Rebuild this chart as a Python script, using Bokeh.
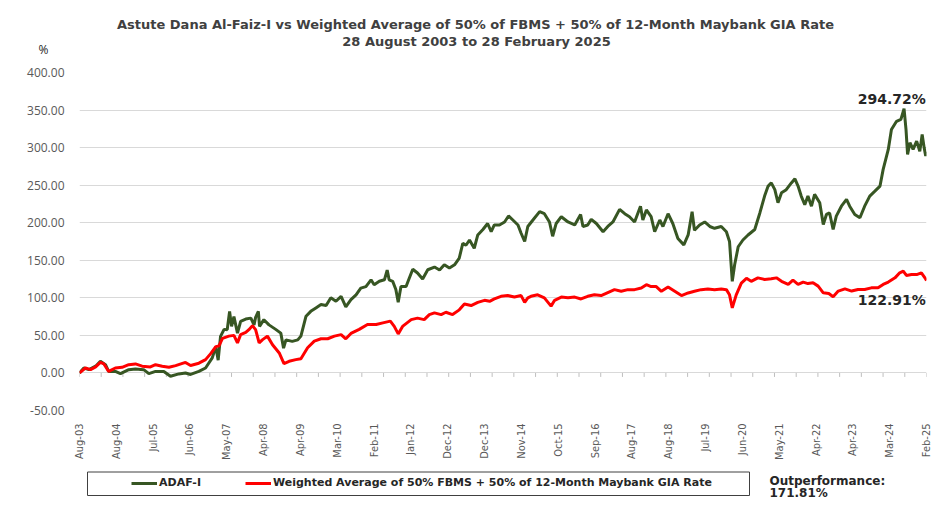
import numpy as np
from bokeh.plotting import figure
from bokeh.layouts import column
from bokeh.models import (Range1d, FixedTicker, CustomJSTickFormatter, NumeralTickFormatter,
                          Label, Legend, LegendItem)
from bokeh.embed import file_html
from bokeh.resources import INLINE

# ---------------- data ----------------
x_labels = ["Aug-03", "Aug-04", "Jul-05", "Jun-06", "May-07", "Apr-08", "Apr-09", "Mar-10",
            "Feb-11", "Jan-12", "Dec-12", "Dec-13", "Nov-14", "Oct-15", "Sep-16", "Aug-17",
            "Aug-18", "Jul-19", "Jun-20", "May-21", "Apr-22", "Apr-23", "Mar-24", "Feb-25"]
y_ticks = [-50, 0, 50, 100, 150, 200, 250, 300, 350, 400]

# ADAF-I cumulative return (%), time in decimal years
adaf_t = [2003.66, 2003.77, 2003.90, 2004.07, 2004.19, 2004.32, 2004.40, 2004.57, 2004.70, 2004.91,
          2005.08, 2005.29, 2005.42, 2005.59, 2005.80, 2005.97, 2006.18, 2006.35, 2006.48, 2006.69,
          2006.86, 2007.03, 2007.12, 2007.18, 2007.24, 2007.33, 2007.41, 2007.47, 2007.52, 2007.58,
          2007.67, 2007.75, 2007.88, 2008.01, 2008.09, 2008.13, 2008.20, 2008.23, 2008.34, 2008.47,
          2008.64, 2008.77, 2008.84, 2008.90, 2009.06, 2009.20, 2009.28, 2009.41, 2009.53, 2009.66,
          2009.79, 2009.92, 2010.04, 2010.17, 2010.30, 2010.42, 2010.55, 2010.68, 2010.80, 2010.93,
          2011.06, 2011.14, 2011.27, 2011.40, 2011.47, 2011.52, 2011.61, 2011.69, 2011.75, 2011.82,
          2011.95, 2012.03, 2012.12, 2012.24, 2012.37, 2012.50, 2012.67, 2012.80, 2012.92, 2013.05,
          2013.18, 2013.30, 2013.39, 2013.47, 2013.56, 2013.68, 2013.77, 2013.90, 2014.02, 2014.11,
          2014.19, 2014.32, 2014.45, 2014.55, 2014.66, 2014.79, 2014.87, 2014.96, 2015.04, 2015.17,
          2015.34, 2015.46, 2015.59, 2015.67, 2015.76, 2015.89, 2016.06, 2016.23, 2016.38, 2016.44,
          2016.56, 2016.65, 2016.78, 2016.95, 2017.07, 2017.20, 2017.37, 2017.50, 2017.62, 2017.75,
          2017.90, 2017.96, 2018.05, 2018.17, 2018.26, 2018.39, 2018.47, 2018.60, 2018.72, 2018.85,
          2019.00, 2019.11, 2019.21, 2019.27, 2019.40, 2019.53, 2019.66, 2019.78, 2019.95, 2020.08,
          2020.16, 2020.23, 2020.29, 2020.38, 2020.50, 2020.63, 2020.80, 2020.93, 2021.05, 2021.14,
          2021.22, 2021.31, 2021.39, 2021.48, 2021.60, 2021.73, 2021.82, 2021.90, 2021.98, 2022.07,
          2022.15, 2022.24, 2022.32, 2022.45, 2022.54, 2022.62, 2022.70, 2022.79, 2022.87, 2023.00,
          2023.13, 2023.21, 2023.34, 2023.47, 2023.59, 2023.72, 2023.85, 2023.98, 2024.06, 2024.19,
          2024.27, 2024.40, 2024.51, 2024.59, 2024.64, 2024.68, 2024.74, 2024.82, 2024.91, 2024.99,
          2025.05, 2025.10, 2025.14, 2025.16]
adaf_v = [0, 6.6, 4.4, 9, 15.5, 11, 2, 2, -1, 4.4,
          5.3, 4.4, -1, 2, 2, -4.4, -1.3, 0, -2, 2,
          6.6, 20, 35, 17, 48.7, 58, 57.6, 82, 62, 75,
          53, 68.7, 71.7, 73, 64, 74, 82, 62, 70.9, 64,
          58, 53, 33, 44, 42, 44, 49, 75.5, 82, 86.5,
          91, 89.7, 100, 95.5, 102, 88, 97.6, 104, 113, 115,
          124, 117.5, 122, 124, 137, 124, 122, 111, 94, 115,
          115, 126, 138, 133, 125, 137.4, 141, 137, 144, 139.6,
          144, 153, 172.7, 170, 177, 166, 183.7, 191, 199, 188,
          197, 197, 201, 209, 203.6, 197, 186, 175, 195, 203.6,
          214.7, 212, 201, 182, 199, 208, 201, 197, 211, 195,
          197, 204.5, 199, 188, 195, 201, 217.8, 212, 208, 201,
          222, 203.6, 217, 208, 188, 203.6, 195, 212, 199, 179,
          170.5, 183.7, 214.7, 190, 197, 201, 195, 192.6, 195, 188,
          175, 122, 144, 168, 177, 183.7, 191, 213, 235.5, 248.8,
          253, 244, 226.6, 240, 244, 253, 258.5, 248.8, 235.5, 224,
          235.5, 222, 237.7, 226.6, 197.7, 211, 213, 191, 208.8, 222,
          231, 222, 211, 206.6, 222, 235.5, 242, 248.8, 271, 297.6,
          324, 335, 337.6, 351.8, 324, 291, 306.5, 297.6, 308.7, 295,
          317.6, 300, 288.7, 294.72]

# Benchmark cumulative return (%)
bm_t = [2003.66, 2003.81, 2003.94, 2004.07, 2004.19, 2004.28, 2004.40, 2004.57, 2004.74, 2004.91,
        2005.08, 2005.25, 2005.46, 2005.59, 2005.76, 2005.93, 2006.10, 2006.35, 2006.48, 2006.69,
        2006.86, 2006.99, 2007.12, 2007.20, 2007.29, 2007.45, 2007.58, 2007.67, 2007.75, 2007.88,
        2007.96, 2008.05, 2008.13, 2008.22, 2008.30, 2008.43, 2008.56, 2008.73, 2008.85, 2008.98,
        2009.15, 2009.28, 2009.45, 2009.62, 2009.79, 2009.96, 2010.13, 2010.30, 2010.42, 2010.55,
        2010.76, 2010.97, 2011.19, 2011.36, 2011.55, 2011.65, 2011.75, 2011.86, 2012.08, 2012.24,
        2012.41, 2012.54, 2012.67, 2012.84, 2012.96, 2013.13, 2013.30, 2013.43, 2013.60, 2013.77,
        2013.94, 2014.07, 2014.19, 2014.36, 2014.53, 2014.70, 2014.87, 2014.96, 2015.04, 2015.12,
        2015.29, 2015.46, 2015.63, 2015.72, 2015.89, 2016.06, 2016.23, 2016.39, 2016.56, 2016.73,
        2016.90, 2017.07, 2017.24, 2017.41, 2017.58, 2017.75, 2017.92, 2018.05, 2018.17, 2018.30,
        2018.43, 2018.60, 2018.77, 2018.94, 2019.11, 2019.27, 2019.44, 2019.61, 2019.78, 2019.95,
        2020.08, 2020.16, 2020.23, 2020.33, 2020.46, 2020.59, 2020.71, 2020.88, 2021.05, 2021.22,
        2021.35, 2021.48, 2021.65, 2021.77, 2021.90, 2022.03, 2022.15, 2022.28, 2022.41, 2022.54,
        2022.68, 2022.79, 2022.92, 2023.09, 2023.26, 2023.42, 2023.59, 2023.76, 2023.93, 2024.06,
        2024.19, 2024.36, 2024.48, 2024.57, 2024.65, 2024.78, 2024.91, 2025.03, 2025.12, 2025.16]
bm_v = [0, 6.6, 4.4, 8, 14, 12, 2, 6.6, 7.5, 11,
        12, 9, 8, 11, 9, 7.5, 9.7, 14, 10, 13,
        17.7, 25.7, 35, 36, 46, 49, 50, 40, 51, 54,
        57.6, 63, 57.6, 40, 44, 49, 37.6, 26.6, 12.4, 15.5,
        17.7, 19, 33.6, 42.4, 45.5, 45.5, 49, 51, 45.5, 52.6,
        58, 64.5, 64.5, 66.7, 69, 62, 52, 62, 71, 73,
        71, 77.7, 80, 77.7, 80.8, 77.7, 84, 91.8, 89.7, 94,
        96.7, 95.4, 98.5, 102, 103, 101, 103, 94, 100, 102,
        104, 100, 89, 96.7, 101, 100, 101, 98.5, 102, 104,
        103, 107, 110.9, 108.7, 110.9, 110.9, 113, 117.5, 115, 115,
        108.7, 114.4, 108.7, 103, 106.5, 108.7, 110.9, 111.7, 110.9, 111.7,
        110.9, 104, 86.6, 104, 119.7, 126, 122, 126.6, 124.5, 125.3,
        126.6, 122, 117.8, 123.6, 117.8, 121, 119, 120, 115.6, 106.7,
        105.8, 101.4, 109, 112, 109, 111, 111, 113.3, 113.3, 117.8,
        121, 126.6, 133.3, 135.5, 129.8, 131, 131, 133.3, 126.6, 122.91]

GREEN = "#375623"
RED = "#ff0000"
GREY_TXT = "#595959"
DARK_TXT = "#262626"
W = 937


def blank(height):
    f = figure(width=W, height=height, output_backend="svg", toolbar_location=None,
               x_range=Range1d(0, W), y_range=Range1d(height, 0),
               x_axis_location=None, y_axis_location=None, frame_align=False,
               min_border=0, min_border_left=0, min_border_right=0,
               min_border_top=0, min_border_bottom=0)
    f.grid.visible = False
    f.outline_line_color = None
    f.background_fill_color = "white"
    f.border_fill_color = "white"
    return f


def lab(fig, x, y, text, size, bold=True, font="DejaVu Sans", align="left", color=DARK_TXT):
    fig.add_layout(Label(x=x, y=y, text=text, text_font=font, text_font_size=size,
                         text_font_style="bold" if bold else "normal", text_align=align,
                         text_baseline="middle", text_color=color))


# ---------------- title strip ----------------
top = blank(60)
lab(top, 475, 24, "Astute Dana Al-Faiz-I vs Weighted Average of 50% of FBMS + 50% of 12-Month Maybank GIA Rate",
    "13px", align="center", color="#404040")
lab(top, 476, 41, "28 August 2003 to 28 February 2025", "13px", align="center", color="#404040")
lab(top, 43, 49, "%", "12px", bold=False, font="Open Sans", align="center")

# ---------------- main chart ----------------
X0, X1 = adaf_t[0], adaf_t[-1]
Y0, Y1 = y_ticks[0], y_ticks[-1]

p = figure(width=W, height=402, output_backend="svg", toolbar_location=None,
           x_range=Range1d(X0, X1), y_range=Range1d(Y0, Y1), frame_align=False,
           min_border_left=79, min_border_right=11, min_border_top=12, min_border_bottom=51)
p.outline_line_color = None
p.background_fill_color = "white"
p.border_fill_color = "white"

p.xgrid.visible = False
p.ygrid.ticker = FixedTicker(ticks=y_ticks)
p.ygrid.grid_line_color = "#d9d9d9"
p.ygrid.grid_line_width = 1

p.yaxis.ticker = FixedTicker(ticks=y_ticks)
p.yaxis.formatter = NumeralTickFormatter(format="0.00")
p.yaxis.axis_line_color = None
p.yaxis.major_tick_line_color = None
p.yaxis.minor_tick_line_color = None
p.yaxis.major_label_standoff = 9
p.yaxis.major_label_text_font = "Open Sans"
p.yaxis.major_label_text_font_size = "12px"
p.yaxis.major_label_text_color = GREY_TXT

n = len(x_labels)
step = (X1 - X0) / (n - 1)
p.xaxis.ticker = FixedTicker(ticks=[X0 + i * step for i in range(n)])
p.xaxis.formatter = CustomJSTickFormatter(args=dict(labels=x_labels, x0=X0, step=step),
                                          code="return labels[Math.round((tick - x0) / step)] || '';")
p.xaxis.major_label_orientation = np.pi / 2
p.xaxis.axis_line_color = None
p.xaxis.major_tick_line_color = None
p.xaxis.minor_tick_line_color = None
p.xaxis.major_label_standoff = 7
p.xaxis.major_label_text_font = "DejaVu Sans Condensed"
p.xaxis.major_label_text_font_size = "11px"
p.xaxis.major_label_text_color = GREY_TXT

# small tick marks hanging from the zero line
n_small = 39
small = [X0 + i * (X1 - X0) / n_small for i in range(n_small + 1)]
p.segment(x0=small, y0=[0] * len(small), x1=small, y1=[-5.3] * len(small),
          line_color="#bfbfbf", line_width=1)

p.line(adaf_t, adaf_v, line_color=GREEN, line_width=3)
p.line(bm_t, bm_v, line_color=RED, line_width=3)

lab(p, X1 - 0.02, 364.5, "294.72%", "14px", align="right")
lab(p, X1 - 0.02, 97.0, "122.91%", "14px", align="right")

# ---------------- legend strip ----------------
bot = blank(45)
bot.quad(left=[87], right=[749], top=[9.5], bottom=[33], fill_color=None,
         line_color="#404040", line_width=1)
# legend swatches: the same series, drawn far outside this strip's visible range
lg_g = bot.line(x=adaf_t, y=adaf_v, line_color=GREEN, line_width=3)
lg_r = bot.line(x=bm_t, y=bm_v, line_color=RED, line_width=3)
legend = Legend(items=[LegendItem(label="ADAF-I", renderers=[lg_g]),
                       LegendItem(label="Weighted Average of 50% FBMS + 50% of 12-Month Maybank GIA Rate",
                                  renderers=[lg_r])],
                orientation="horizontal", location=(131, 18), padding=0, margin=0,
                spacing=44, glyph_width=26, glyph_height=12, label_height=12, label_standoff=2,
                label_text_font="DejaVu Sans", label_text_font_style="bold",
                label_text_font_size="11px", label_text_color=DARK_TXT,
                border_line_alpha=0, background_fill_alpha=0)
bot.add_layout(legend, "center")
lab(bot, 769, 18, "Outperformance:", "12px")
lab(bot, 769, 30, "171.81%", "12px")

layout = column(top, p, bot, spacing=0)
open("out.html", "w").write(file_html(layout, INLINE))
